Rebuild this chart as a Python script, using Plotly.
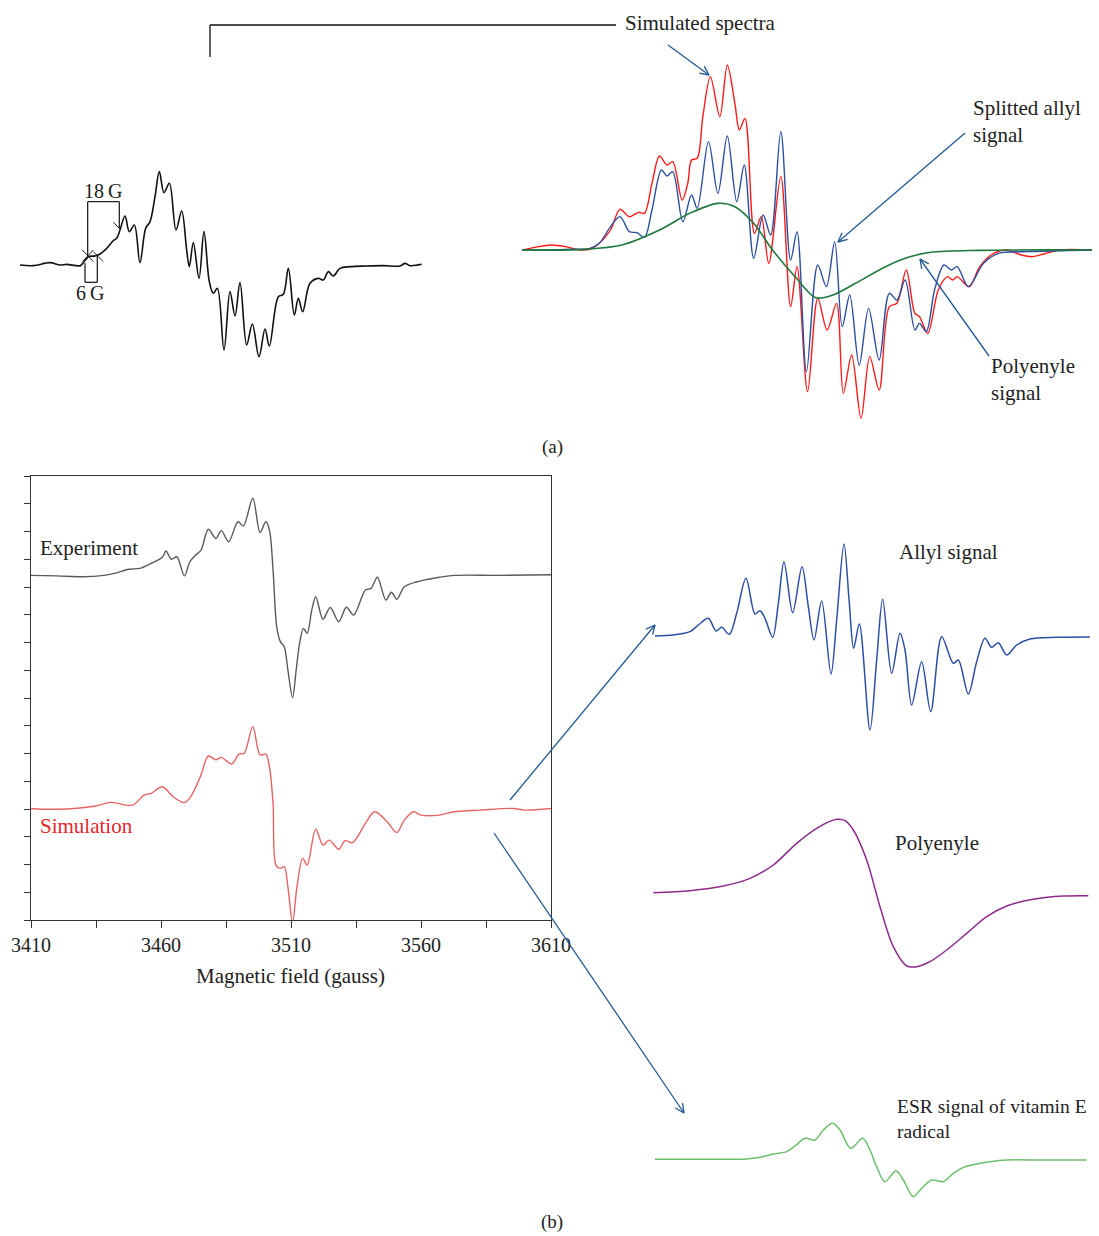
import math
import plotly.graph_objects as go

W, H = 1099, 1236
FONT = "Liberation Serif"

# ---------------- (b) left: experiment vs simulation (gauss, arbitrary units)
exp_field = [3410, 3420, 3430, 3438, 3442, 3447.7, 3451.9, 3456.2, 3460.5, 3461.9, 3464.0, 3466.1,
             3469.0, 3471.1, 3473.3, 3475.4, 3478.2, 3481.1, 3483.2, 3486.0, 3489.6, 3491.7, 3495.3,
             3498.1, 3500.3, 3501.7, 3503.1, 3504.5, 3505.9, 3507.4, 3508.8, 3510.6, 3512.0, 3513.3,
             3514.8, 3516.2, 3518.0, 3519.5, 3522.3, 3525.1, 3528.4, 3531.3, 3534.1, 3538.6, 3540.8,
             3543.2, 3546.5, 3548.6, 3550.7, 3553.6, 3558.5, 3562.8, 3567.1, 3572.8, 3590, 3610]
exp_signal = [12.42, 12.40, 12.37, 12.42, 12.49, 12.64, 12.67, 12.85, 13.07, 13.30, 13.00, 13.09,
              12.40, 12.91, 13.15, 13.33, 14.08, 13.75, 14.03, 13.63, 14.35, 14.20, 15.20,
              13.96, 14.35, 14.05, 12.61, 10.57, 10.03, 9.85, 9.01, 8.01, 9.01, 9.97,
              10.51, 10.33, 11.17, 11.65, 10.84, 11.26, 10.75, 11.27, 10.99, 11.89, 11.95,
              12.35, 11.53, 11.81, 11.56, 12.01, 12.19, 12.28, 12.35, 12.42, 12.42, 12.44]

sim_field = [3410, 3419.2, 3434.9, 3440.6, 3449.1, 3453.4, 3456.2, 3460.5, 3464.7, 3469.0,
             3471.8, 3475.4, 3478.2, 3481.1, 3483.2, 3487.2, 3490.0, 3492.0, 3495.3, 3498.1,
             3500.3, 3501.7, 3503.1, 3504.2, 3505.9, 3507.4, 3508.8, 3510.6, 3512.3, 3514.5,
             3516.2, 3519.5, 3522.3, 3524.7, 3528.4, 3530.8, 3533.7, 3538.6, 3542.2, 3547.2,
             3550.7, 3553.6, 3557.1, 3560.0, 3567.1, 3572.8, 3582.7, 3595.5, 3599.8, 3610]
sim_signal = [4.02, 3.99, 4.11, 4.24, 4.14, 4.50, 4.56, 4.80, 4.44, 4.23,
              4.50, 5.23, 5.91, 5.77, 5.86, 5.62, 5.98, 6.01, 6.97, 5.95,
              5.98, 5.53, 4.20, 1.98, 1.86, 1.92, 1.20, -0.1, 1.20, 2.22,
              1.98, 3.27, 2.70, 2.88, 2.55, 2.86, 2.79, 3.48, 3.90, 3.51,
              3.15, 3.60, 3.90, 3.78, 3.78, 3.90, 3.96, 4.02, 3.96, 4.02]

field_ticks = [3410, 3435, 3460, 3485, 3510, 3535, 3560, 3585, 3610]
field_labels = ["3410", "", "3460", "", "3510", "", "3560", "", "3610"]

# ---------------- (a) left: measured spectrum (arbitrary field / amplitude units)
a_exp_x = [60, 100, 150, 180, 200, 240, 250, 265, 285, 300, 320, 340, 350, 360, 375, 388, 403, 420,
           437, 450, 465, 478, 492, 508, 528, 545, 560, 568, 580, 597, 612, 628, 640, 652, 672, 690,
           705, 720, 740, 757, 777, 795, 808, 835, 850, 865, 883, 895, 908, 930, 955, 970, 985,
           1000, 1020, 1050, 1100, 1150, 1200, 1215, 1230, 1265]
a_exp_y = [0, -2, 7, 0, 2, -2, 7, 25, 27, 33, 50, 73, 80, 105, 147, 100, 120, 7,
           110, 130, 205, 280, 217, 245, 105, 162, 45, -5, 67, -40, 100, -50, -85, -70, -255, -80,
           -153, -53, -240, -177, -275, -192, -243, -95, -88, -10, -150, -100, -140, -55, -40, -45, -20,
           -33, -10, -5, -3, -2, -3, 5, -2, 2]

# ---------------- (a) right: simulated spectra
a_red_x = [35, 80, 115, 150, 190, 215, 240, 270, 295, 320, 345, 360, 380, 400, 420, 435, 460, 475,
           485, 500, 515, 535, 560, 580, 600, 612, 627, 652, 670, 690, 722, 748, 765, 793, 820, 845,
           870, 888, 910, 935, 958, 983, 1010, 1030, 1055, 1078, 1090, 1112, 1140, 1165, 1178, 1190,
           1222, 1250, 1280, 1320, 1360, 1390, 1420, 1460, 1548]
a_red_y = [0, 10, 15, 10, 0, 2, 20, 60, 122, 100, 113, 110, 200, 282, 255, 265, 150, 200,
           270, 275, 400, 520, 400, 555, 440, 360, 395, 50, 100, -40, 220, -170, -50, -425, -145, -240,
           -160, -430, -315, -505, -320, -420, -170, -160, -60, -190, -200, -250, -120, -80, -90, -80,
           -110, -50, -15, 0, -15, -20, -12, 0, 0]
a_blue_x = [35, 150, 215, 240, 270, 295, 320, 340, 360, 380, 405, 420, 435, 462, 485, 500, 530, 555,
            580, 605, 625, 650, 675, 695, 722, 748, 765, 790, 820, 843, 865, 885, 905, 930, 955, 983,
            1010, 1030, 1052, 1078, 1090, 1108, 1130, 1155, 1175, 1190, 1220, 1260, 1300, 1380, 1548]
a_blue_y = [0, 2, 5, 20, 70, 100, 55, 52, 38, 120, 240, 222, 235, 85, 165, 125, 325, 170,
            342, 145, 255, -25, 105, 45, 355, -30, 55, -365, -45, -110, 25, -230, -135, -345, -175, -330,
            -130, -150, -90, -240, -220, -245, -120, -45, -60, -50, -110, -40, -10, -5, 0]
a_green_x = [35, 200, 300, 400, 480, 555, 600, 650, 700, 760, 815, 860, 920, 1000, 1060, 1120, 1250, 1548]
a_green_y = [0, 2, 15, 60, 110, 140, 130, 80, 0, -80, -143, -135, -100, -50, -22, -7, -1, 0]

# ---------------- (b) right: component signals
allyl_x = [45, 100, 150, 175, 205, 228, 245, 268, 290, 318, 345, 360, 375, 398, 415, 432, 458, 486,
           505, 522, 545, 573, 590, 612, 628, 641, 658, 690, 710, 728, 755, 780, 795, 815, 845, 872,
           905, 940, 955, 985, 1010, 1035, 1055, 1075, 1100, 1130, 1170, 1250, 1350]
allyl_y = [0, 3, 13, 33, 53, 15, 26, 5, 68, 173, 66, 76, 53, -4, 98, 223, 70, 208,
           88, -12, 105, -114, 48, 276, 98, -37, 36, -282, -72, 110, -112, 8, -42, -207, -77, -227,
           -2, -82, -72, -174, -77, -7, -34, -20, -57, -27, -9, -4, -3]
poly_x = [40, 150, 250, 330, 400, 470, 530, 590, 615, 640, 680, 720, 760, 800, 830, 870, 920, 980,
          1040, 1100, 1180, 1270, 1345]
poly_y = [0, 6, 20, 43, 83, 148, 193, 220, 216, 188, 98, -42, -162, -220, -222, -207, -172, -122,
          -72, -40, -20, -10, -9]
vite_x = [45, 200, 320, 360, 400, 440, 465, 495, 525, 550, 578, 600, 632, 668, 690, 710, 735, 768,
          790, 820, 845, 875, 910, 940, 970, 1010, 1050, 1100, 1200, 1340]
vite_y = [0, 0, 1, 6, 16, 23, 40, 63, 58, 88, 108, 88, 33, 63, 28, -22, -67, -34,
          -62, -112, -87, -62, -67, -42, -24, -14, -7, -2, -2, -2]


def px(x):
    return x / W


def py(y):
    return 1 - y / H


fig = go.Figure()


def add(x, y, color, width, ax, smooth=0.9):
    fig.add_trace(go.Scatter(x=x, y=y, mode="lines", xaxis="x" + ax, yaxis="y" + ax,
                             line=dict(color=color, width=width, shape="spline", smoothing=smooth),
                             hoverinfo="skip", showlegend=False, cliponaxis=False))


add(exp_field, exp_signal, "#5a5a5a", 1.4, "")
add(sim_field, sim_signal, "#e86464", 1.4, "")
add(a_exp_x, a_exp_y, "#111111", 1.6, "2", 1.0)
add(a_red_x, a_red_y, "#ff1a1a", 1.4, "3")
add(a_blue_x, a_blue_y, "#2a4fa0", 1.4, "3")
add(a_green_x, a_green_y, "#1e7a3c", 1.6, "3")
add(allyl_x, allyl_y, "#2d4ea6", 1.5, "4")
add(poly_x, poly_y, "#8e2a8e", 1.5, "5")
add(vite_x, vite_y, "#6cbf6c", 1.5, "6")

hidden = dict(visible=False, fixedrange=True, automargin=False)
layout = dict(
    width=W, height=H, autosize=False,
    margin=dict(l=0, r=0, t=0, b=0, pad=0, autoexpand=False),
    paper_bgcolor="white", plot_bgcolor="rgba(0,0,0,0)",
    font=dict(family=FONT, color="#222", size=18),
    showlegend=False,
    xaxis=dict(domain=[px(31), px(551)], range=[3410, 3610], anchor="y", automargin=False,
               tickvals=field_ticks, ticktext=field_labels, ticks="outside", ticklen=7,
               tickcolor="#333", tickwidth=1.2, showline=True, mirror=True, linecolor="#333",
               linewidth=1.3, showgrid=False, zeroline=False,
               tickfont=dict(family=FONT, size=20, color="#222")),
    yaxis=dict(domain=[py(920), py(476)], range=[0, 16], anchor="x", dtick=1, tick0=0,
               automargin=False,
               ticks="outside", ticklen=6, tickcolor="#333", tickwidth=1.2, showticklabels=False,
               showline=True, mirror=True, linecolor="#333", linewidth=1.3, showgrid=False,
               zeroline=False),
    xaxis2=dict(domain=[0, px(440)], range=[0, 1320], anchor="y2", **hidden),
    yaxis2=dict(domain=[py(370), py(150)], range=[-315, 345], anchor="x2", **hidden),
    xaxis3=dict(domain=[px(522), px(1092)], range=[35, 1548], anchor="y3", **hidden),
    yaxis3=dict(domain=[py(430), py(50)], range=[-540, 600], anchor="x3", **hidden),
    xaxis4=dict(domain=[px(640), 1], range=[0, 1377], anchor="y4", **hidden),
    yaxis4=dict(domain=[py(740), py(520)], range=[-312, 348], anchor="x4", **hidden),
    xaxis5=dict(domain=[px(640), 1], range=[0, 1377], anchor="y5", **hidden),
    yaxis5=dict(domain=[py(980), py(800)], range=[-262, 278], anchor="x5", **hidden),
    xaxis6=dict(domain=[px(640), 1], range=[0, 1377], anchor="y6", **hidden),
    yaxis6=dict(domain=[py(1210), py(1090)], range=[-152, 208], anchor="x6", **hidden),
)
fig.update_layout(**layout)

shapes = []
ARROW = "#245a94"


def pline(x0, y0, x1, y1, color, width=1.2):
    shapes.append(dict(type="line", xref="paper", yref="paper", x0=px(x0), y0=py(y0),
                       x1=px(x1), y1=py(y1), line=dict(color=color, width=width)))


def arrow(tx, ty, hx, hy, color=ARROW):
    pline(tx, ty, hx, hy, color, 1.3)
    ang = math.atan2(ty - hy, tx - hx)
    for d in (0.45, -0.45):
        pline(hx, hy, hx + 10 * math.cos(ang + d), hy + 10 * math.sin(ang + d), color, 1.3)


# top bracket connecting to "Simulated spectra"
pline(210, 57, 210, 25, "#111", 1.3)
pline(210, 25, 616, 25, "#111", 1.3)

arrow(668, 45, 709, 75)
arrow(965, 133, 838, 242)
arrow(989, 356, 920, 259)
arrow(510, 800, 655, 625)
arrow(494, 833, 684, 1113)


def dline(x0, y0, x1, y1, ax="2", width=1.3):
    shapes.append(dict(type="line", xref="x" + ax, yref="y" + ax, x0=x0, y0=y0, x1=x1, y1=y1,
                       line=dict(color="#222", width=width)))


# 18 G and 6 G brackets on the measured spectrum
dline(263, 27, 263, 190)
dline(263, 190, 358, 190)
dline(358, 190, 358, 110)
dline(255, 5, 255, -52)
dline(255, -52, 292, -52)
dline(292, -52, 292, 30)
# small cross / arrow marks
dline(247, 45, 280, 10, width=1)
dline(247, 10, 280, 45, width=1)
dline(280, 40, 310, 10, width=1)
dline(340, 128, 360, 108, width=1)
dline(240, -5, 262, 20, width=1)

fig.update_layout(shapes=shapes)

ann = []


def text(t, x, y, xanchor="left", color="#222", size=21):
    ann.append(dict(text=t, x=px(x), y=py(y), xref="paper", yref="paper", showarrow=False,
                    xanchor=xanchor, yanchor="middle", align="left",
                    font=dict(family=FONT, size=size, color=color)))


text("Simulated spectra", 623, 23)
text("Splitted allyl<br>signal", 971, 122)
text("Polyenyle<br>signal", 989, 379)
text("(a)", 552, 447, "center", size=19)
text("18\u2009G", 103, 191, "center", size=20)
text("6\u2009G", 90, 293, "center", size=20)
text("Experiment", 38, 548)
text("Simulation", 38, 826, color="#e8262a")
text("Magnetic field (gauss)", 291, 976, "center")
text("Allyl signal", 897, 552)
text("Polyenyle", 893, 843)
text("ESR signal of vitamin E<br>radical", 895, 1119, size=19.5)
text("(b)", 552, 1222, "center", size=19)
fig.update_layout(annotations=ann)

fig.write_html("out.html")
